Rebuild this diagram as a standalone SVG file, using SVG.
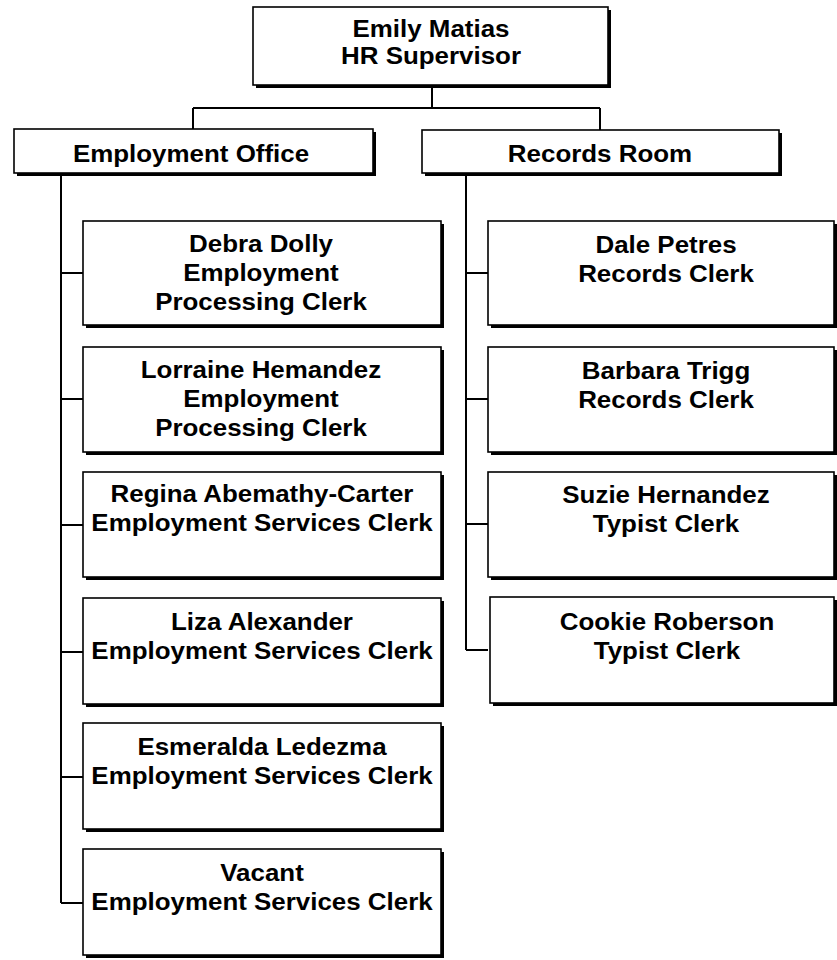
<svg xmlns="http://www.w3.org/2000/svg" width="837" height="960" viewBox="0 0 837 960">
<style>
.sh{fill:#000}
.bx{fill:#fff;stroke:#000;stroke-width:1.6}
.t{font-family:"Liberation Sans",Arial,sans-serif;font-weight:bold;font-size:24px;fill:#000;text-anchor:middle}
.c{fill:none;stroke:#000;stroke-width:2}
</style>
<rect width="837" height="960" fill="#fff"/>
<g id="connectors">
<path class="c" d="M432 85 V108 M193 108 H600 M193 108 V130 M600 108 V131"/>
<path class="c" d="M61 173 V903 M61 273 H83 M61 399 H83 M61 525 H83 M61 652 H83 M61 777 H83 M61 903 H83"/>
<path class="c" d="M466 173 V650 M466 273 H488 M466 399 H488 M466 524 H488 M466 650 H488"/>
</g>
<g id="n-emily">
<rect class="sh" x="256" y="10" width="355" height="78"/>
<rect class="bx" x="253" y="7" width="355" height="78"/>
<text class="t" transform="translate(431,0) scale(1.08,1)" y="37">Emily Matias</text>
<text class="t" transform="translate(431,0) scale(1.08,1)" y="64">HR Supervisor</text>
</g>
<g id="n-employment-office">
<rect class="sh" x="17" y="132" width="359" height="44"/>
<rect class="bx" x="14" y="129" width="359" height="44"/>
<text class="t" transform="translate(191,0) scale(1.08,1)" y="162">Employment Office</text>
</g>
<g id="n-records-room">
<rect class="sh" x="425" y="133" width="357" height="43"/>
<rect class="bx" x="422" y="130" width="357" height="43"/>
<text class="t" transform="translate(600,0) scale(1.08,1)" y="162">Records Room</text>
</g>
<g id="n-debra">
<rect class="sh" x="86" y="224" width="358" height="104"/>
<rect class="bx" x="83" y="221" width="358" height="104"/>
<text class="t" transform="translate(261,0) scale(1.08,1)" y="252">Debra Dolly</text>
<text class="t" transform="translate(261,0) scale(1.08,1)" y="281">Employment</text>
<text class="t" transform="translate(261,0) scale(1.08,1)" y="310">Processing Clerk</text>
</g>
<g id="n-lorraine">
<rect class="sh" x="86" y="350" width="358" height="105"/>
<rect class="bx" x="83" y="347" width="358" height="105"/>
<text class="t" transform="translate(261,0) scale(1.08,1)" y="378">Lorraine Hemandez</text>
<text class="t" transform="translate(261,0) scale(1.08,1)" y="407">Employment</text>
<text class="t" transform="translate(261,0) scale(1.08,1)" y="436">Processing Clerk</text>
</g>
<g id="n-regina">
<rect class="sh" x="86" y="475" width="358" height="105"/>
<rect class="bx" x="83" y="472" width="358" height="105"/>
<text class="t" transform="translate(262,0) scale(1.08,1)" y="502">Regina Abemathy-Carter</text>
<text class="t" transform="translate(262,0) scale(1.08,1)" y="531">Employment Services Clerk</text>
</g>
<g id="n-liza">
<rect class="sh" x="86" y="601" width="358" height="106"/>
<rect class="bx" x="83" y="598" width="358" height="106"/>
<text class="t" transform="translate(262,0) scale(1.08,1)" y="630">Liza Alexander</text>
<text class="t" transform="translate(262,0) scale(1.08,1)" y="659">Employment Services Clerk</text>
</g>
<g id="n-esmeralda">
<rect class="sh" x="86" y="726" width="358" height="106"/>
<rect class="bx" x="83" y="723" width="358" height="106"/>
<text class="t" transform="translate(262,0) scale(1.08,1)" y="755">Esmeralda Ledezma</text>
<text class="t" transform="translate(262,0) scale(1.08,1)" y="784">Employment Services Clerk</text>
</g>
<g id="n-vacant">
<rect class="sh" x="86" y="852" width="358" height="106"/>
<rect class="bx" x="83" y="849" width="358" height="106"/>
<text class="t" transform="translate(262,0) scale(1.08,1)" y="881">Vacant</text>
<text class="t" transform="translate(262,0) scale(1.08,1)" y="910">Employment Services Clerk</text>
</g>
<g id="n-dale">
<rect class="sh" x="491" y="224" width="346" height="104"/>
<rect class="bx" x="488" y="221" width="346" height="104"/>
<text class="t" transform="translate(666,0) scale(1.08,1)" y="253">Dale Petres</text>
<text class="t" transform="translate(666,0) scale(1.08,1)" y="282">Records Clerk</text>
</g>
<g id="n-barbara">
<rect class="sh" x="491" y="350" width="346" height="105"/>
<rect class="bx" x="488" y="347" width="346" height="105"/>
<text class="t" transform="translate(666,0) scale(1.08,1)" y="379">Barbara Trigg</text>
<text class="t" transform="translate(666,0) scale(1.08,1)" y="408">Records Clerk</text>
</g>
<g id="n-suzie">
<rect class="sh" x="491" y="475" width="346" height="105"/>
<rect class="bx" x="488" y="472" width="346" height="105"/>
<text class="t" transform="translate(666,0) scale(1.08,1)" y="503">Suzie Hernandez</text>
<text class="t" transform="translate(666,0) scale(1.08,1)" y="532">Typist Clerk</text>
</g>
<g id="n-cookie">
<rect class="sh" x="493" y="600" width="344" height="106"/>
<rect class="bx" x="490" y="597" width="344" height="106"/>
<text class="t" transform="translate(667,0) scale(1.08,1)" y="630">Cookie Roberson</text>
<text class="t" transform="translate(667,0) scale(1.08,1)" y="659">Typist Clerk</text>
</g>
</svg>
